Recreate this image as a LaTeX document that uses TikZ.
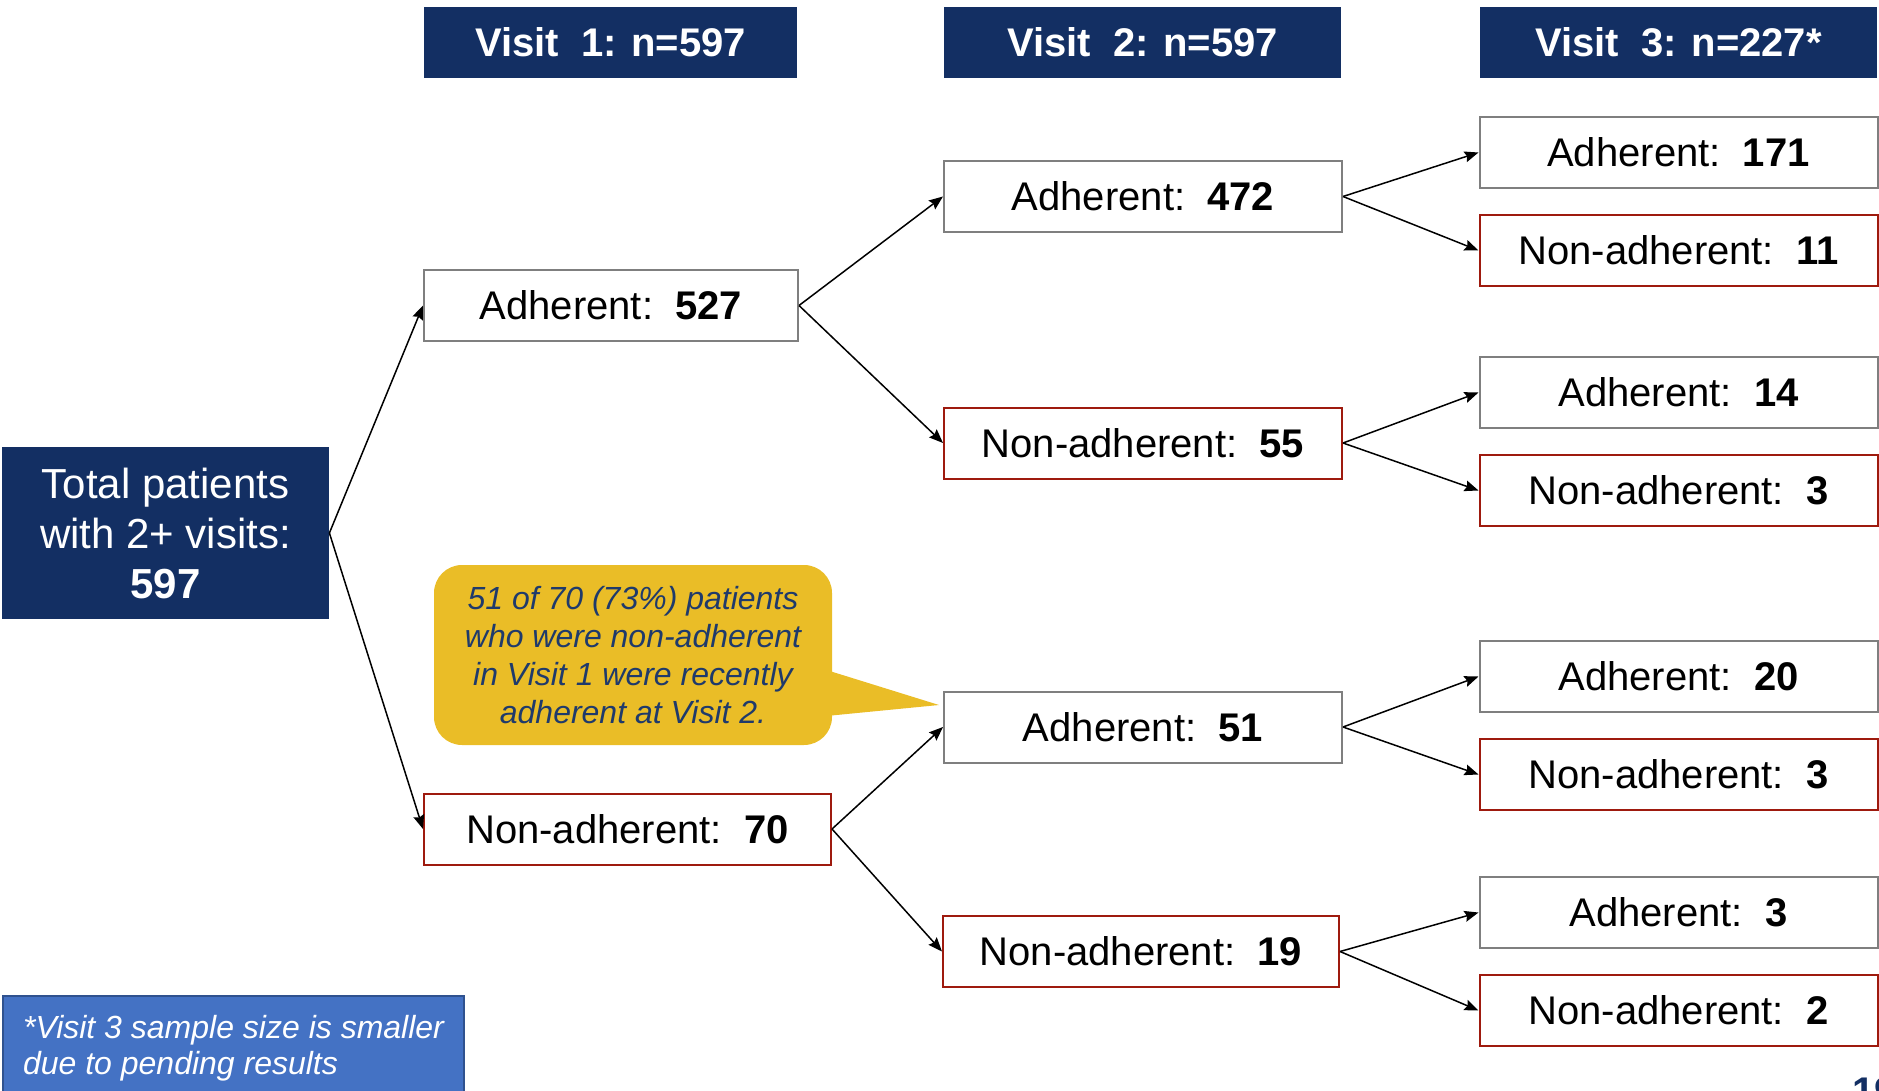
\documentclass[tikz,border=0pt]{standalone}
\usepackage{fontspec}
\setmainfont{Liberation Sans}
\usetikzlibrary{arrows.meta, positioning}
\definecolor{hdrblue}{HTML}{132F63}
\definecolor{boxgray}{HTML}{7F7F7F}
\definecolor{boxred}{HTML}{9E1A0E}
\definecolor{notebg}{HTML}{EABD27}
\definecolor{notetext}{HTML}{1F3A6B}
\definecolor{footblue}{HTML}{4472C4}
\definecolor{footedge}{HTML}{2F528F}
\tikzstyle{header} = [rectangle, minimum height=35.5pt, inner sep=0pt, text centered, fill=hdrblue, text=white, font=\fontsize{20}{24}\selectfont\bfseries]
\tikzstyle{total} = [rectangle, minimum width=163.5pt, minimum height=86pt, inner sep=0pt, align=center, fill=hdrblue, text=white, font=\fontsize{21}{25}\selectfont]
\tikzstyle{adh} = [rectangle, minimum width=199pt, minimum height=35.5pt, inner sep=0pt, text centered, draw=boxgray, line width=1pt, fill=white, font=\fontsize{20}{24}\selectfont]
\tikzstyle{nonadh} = [adh, draw=boxred]
\tikzstyle{note} = [rectangle, rounded corners=14pt, minimum width=199pt, minimum height=90pt, inner sep=0pt, align=center, fill=notebg, text=notetext, font=\fontsize{16}{19}\selectfont\itshape]
\tikzstyle{footnote} = [rectangle, fill=footblue, draw=footedge, line width=1pt, text=white, align=left, minimum width=230.5pt, inner xsep=0pt, inner ysep=9.5pt, minimum height=52pt, font=\fontsize{16}{18}\selectfont\itshape]
\tikzstyle{arrow} = [line width=0.75pt, -{Stealth[length=7pt,width=5.5pt,inset=1pt]}]

\begin{document}
\begin{tikzpicture}[x=0.5pt, y=-0.5pt, node distance=12.5pt]
\useasboundingbox (0,0) rectangle (1879,1091);

% Intestazioni
\node (hdr1) [header, minimum width=186.5pt] at (610.5,42.5) {Visit~~1: n=597};
\node (hdr2) [header, minimum width=198.5pt] at (1142.5,42.5) {Visit~~2: n=597};
\node (hdr3) [header, minimum width=198.5pt] at (1678.5,42.5) {Visit~~3: n=227*};

% Totale
\node (total) [total] at (165.5,533) {Total patients\\with 2+ visits:\\\textbf{597}};

% Visit 1
\node (A) [adh, minimum width=187pt] at (611,305.5) {Adherent:~~\textbf{527}};
\node (N) [nonadh, minimum width=203.5pt] at (627.5,829) {Non-adherent:~~\textbf{70}};

% Visit 2
\node (AA) [adh] at (1143,196.5) {Adherent:~~\textbf{472}};
\node (AN) [nonadh] at (1143,443) {Non-adherent:~~\textbf{55}};
\node (NA) [adh] at (1143,727) {Adherent:~~\textbf{51}};
\node (NN) [nonadh, minimum width=198pt] at (1141,951.5) {Non-adherent:~~\textbf{19}};

% Visit 3
\node (AAA) [adh] at (1678.5,152.5) {Adherent:~~\textbf{171}};
\node (AAN) [nonadh, below=of AAA] {Non-adherent:~~\textbf{11}};
\node (ANA) [adh] at (1678.5,392.5) {Adherent:~~\textbf{14}};
\node (ANN) [nonadh, below=of ANA] {Non-adherent:~~\textbf{3}};
\node (NAA) [adh] at (1678.5,676.5) {Adherent:~~\textbf{20}};
\node (NAN) [nonadh, below=of NAA] {Non-adherent:~~\textbf{3}};
\node (NNA) [adh] at (1678.5,912.5) {Adherent:~~\textbf{3}};
\node (NNN) [nonadh, below=of NNA] {Non-adherent:~~\textbf{2}};

% Frecce
\draw [arrow] (total.east) -- (A.west);
\draw [arrow] (total.east) -- (N.west);
\draw [arrow] (A.east) -- (AA.west);
\draw [arrow] (A.east) -- (AN.west);
\draw [arrow] (N.east) -- (NA.west);
\draw [arrow] (N.east) -- (NN.west);
\draw [arrow] (AA.east) -- (AAA.west);
\draw [arrow] (AA.east) -- (AAN.west);
\draw [arrow] (AN.east) -- (ANA.west);
\draw [arrow] (AN.east) -- (ANN.west);
\draw [arrow] (NA.east) -- (NAA.west);
\draw [arrow] (NA.east) -- (NAN.west);
\draw [arrow] (NN.east) -- (NNA.west);
\draw [arrow] (NN.east) -- (NNN.west);

% Nota
\node (note) [note] at (633,655) {51 of 70 (73\%) patients\\who were non-adherent\\in Visit 1 were recently\\adherent at Visit 2.};
\coordinate (tip) at (939,705);
\fill [notebg] ([xshift=-3pt,yshift=-7.5pt]note.east) -- (tip) -- ([xshift=-3pt,yshift=-30.5pt]note.east) -- cycle;

% Nota a pie di pagina
\node (foot) [footnote, anchor=north west] at (2,995) {*Visit 3 sample size is smaller\\due to pending results};
\node (page) [anchor=north west, inner sep=0pt, text=hdrblue, font=\fontsize{20}{24}\selectfont\bfseries] at (1852,1077) {19};

\end{tikzpicture}
\end{document}
